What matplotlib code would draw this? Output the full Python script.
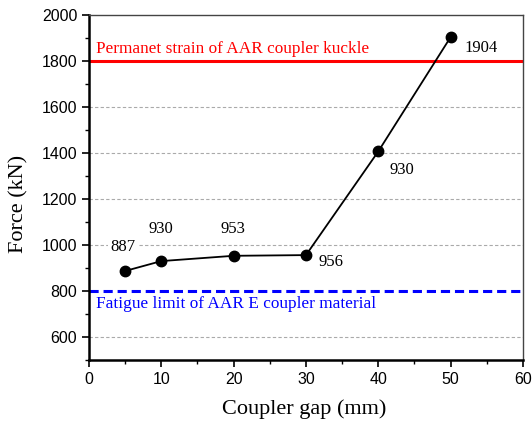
import matplotlib
matplotlib.use("Agg")
import matplotlib.pyplot as plt
from matplotlib.ticker import MultipleLocator

gap = [5, 10, 20, 30, 40, 50]
force = [887, 930, 953, 956, 1407, 1904]
labels = ["887", "930", "953", "956", "930", "1904"]
label_pos = [(4.7, 991), (10, 1070), (19.9, 1070), (33.5, 926), (43.3, 1326), (54.2, 1857)]
knuckle_limit = 1800
fatigue_limit = 800

fig = plt.figure(figsize=(5.32, 4.25), dpi=100)
ax = fig.add_axes([0.1673, 0.153, 0.8157, 0.8117])

ax.set_xlim(0, 60)
ax.set_ylim(500, 2000)

for yv in [600, 1000, 1200, 1400, 1600]:
    ax.axhline(yv, color="#aaaaaa", lw=0.8, ls=(0, (3, 2)), zorder=1)

ax.axhline(knuckle_limit, color="#ff0000", lw=2.2, zorder=2)
ax.axhline(fatigue_limit, color="#0000ff", lw=2.2, ls=(0, (3, 1.6)), zorder=2)

ax.plot(gap, force, color="black", lw=1.3, marker="o", ms=7.5, zorder=4)

for (lx, ly), t in zip(label_pos, labels):
    ax.text(lx, ly, t, family="Liberation Serif", fontsize=12, ha="center", va="center",
            zorder=3, bbox=dict(facecolor="white", edgecolor="none", pad=1.5))

ax.text(1.0, 1818, "Permanet strain of AAR coupler kuckle", color="#ff0000",
        family="Liberation Serif", fontsize=12.4, ha="left", va="bottom", zorder=3)
ax.text(1.0, 745, "Fatigue limit of AAR E coupler material", color="#0000ff",
        family="Liberation Serif", fontsize=12.4, ha="left", va="center", zorder=3)

ax.set_xticks([0, 10, 20, 30, 40, 50, 60])
ax.xaxis.set_minor_locator(MultipleLocator(5))
ax.set_yticks(list(range(600, 2001, 200)))
ax.yaxis.set_minor_locator(MultipleLocator(100))
ax.tick_params(which="major", direction="out", length=5, width=1.2, labelsize=11.5)
ax.tick_params(which="minor", direction="out", length=3, width=1.0)
for lab in ax.get_xticklabels() + ax.get_yticklabels():
    lab.set_family("Liberation Sans")

ax.spines["left"].set_linewidth(1.8)
ax.spines["bottom"].set_linewidth(1.8)
ax.spines["top"].set_linewidth(1.0)
ax.spines["right"].set_linewidth(1.0)
ax.spines["top"].set_color("#444444")
ax.spines["right"].set_color("#444444")

ax.set_xlabel("Coupler gap (mm)", family="Liberation Serif", fontsize=16)
ax.set_ylabel("Force (kN)", family="Liberation Serif", fontsize=16)
ax.xaxis.set_label_coords(0.495, -0.113)
ax.yaxis.set_label_coords(-0.14, 0.452)

fig.savefig("out.png", dpi=100)
